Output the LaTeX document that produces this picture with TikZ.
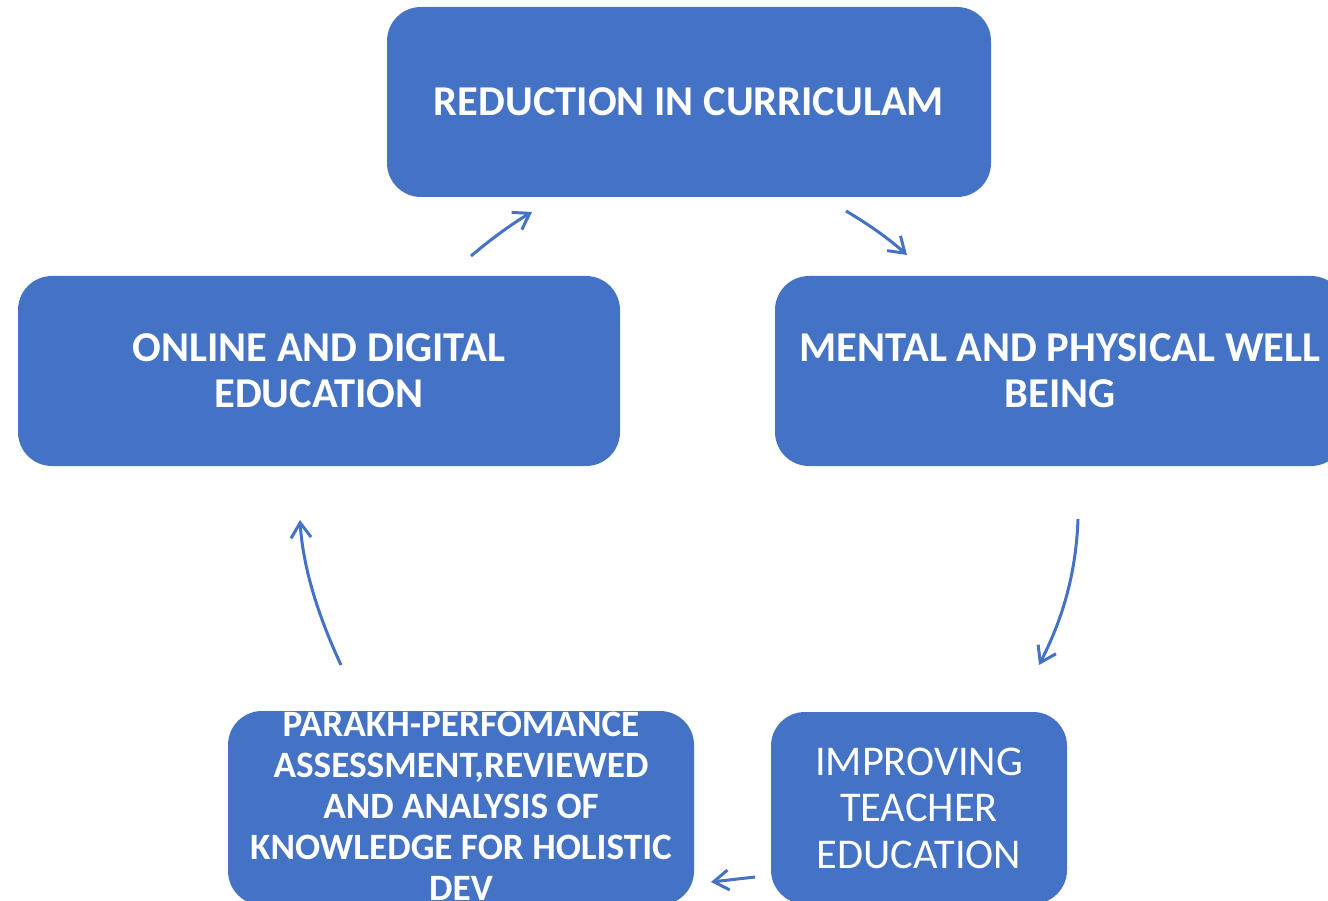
\documentclass[tikz,border=0pt]{standalone}
\usepackage{fontspec}
\setmainfont{Carlito}
\usetikzlibrary{arrows.meta}
\definecolor{boxblue}{HTML}{4472C4}
\tikzset{
  box/.style={fill=boxblue, rounded corners=34pt, text=white, align=center, inner sep=0pt},
  bigbold/.style={font=\fontsize{42.5}{46}\selectfont\bfseries},
  flow/.style={draw=boxblue, line width=3pt, -{Straight Barb[length=15pt,width=20pt,line width=3pt]}}
}
\begin{document}
\begin{tikzpicture}[x=1pt,y=-1pt]
\useasboundingbox (0,0) rectangle (1328,901);
\begin{scope}
\clip (0,0) rectangle (1328,901);
\node[box,bigbold,minimum width=604pt,minimum height=190pt] (top) at (689,102) {REDUCTION IN CURRICULAM};
\node[box,bigbold,minimum width=602pt,minimum height=190pt] (left) at (319,371) {ONLINE AND DIGITAL\\EDUCATION};
\node[box,bigbold,minimum width=570pt,minimum height=190pt] (right) at (1060,371) {MENTAL AND PHYSICAL WELL\\BEING};
\node[box,minimum width=466pt,minimum height=194pt] (bl) at (461,808) {};
\node[text=white,align=center,inner sep=0pt,font=\fontsize{37.2}{41}\selectfont\bfseries] (bltext) at (461,806) {PARAKH-PERFOMANCE\\ASSESSMENT,REVIEWED\\AND ANALYSIS OF\\KNOWLEDGE FOR HOLISTIC\\DEV};
\node[box,font=\fontsize{42.4}{46.5}\selectfont,minimum width=296pt,minimum height=192pt] (br) at (919,808) {IMPROVING\\TEACHER\\EDUCATION};
\end{scope}
\coordinate (a1s) at (471,256);
\coordinate (a1e) at (532,212);
\coordinate (a2s) at (846,211);
\coordinate (a2e) at (907,255);
\coordinate (a3s) at (1078,519);
\coordinate (a3e) at (1039,665);
\coordinate (a4s) at (755,877);
\coordinate (a4e) at (711,882);
\coordinate (a5s) at (341,665);
\coordinate (a5e) at (300,520);
\draw[flow] (a1s) .. controls (490,240) and (510,225) .. (a1e);
\draw[flow] (a2s) .. controls (868,224) and (888,238) .. (a2e);
\draw[flow] (a3s) .. controls (1076,575) and (1062,620) .. (a3e);
\draw[flow] (a4s) -- (a4e);
\draw[flow] (a5s) .. controls (320,620) and (303,570) .. (a5e);
\end{tikzpicture}
\end{document}
